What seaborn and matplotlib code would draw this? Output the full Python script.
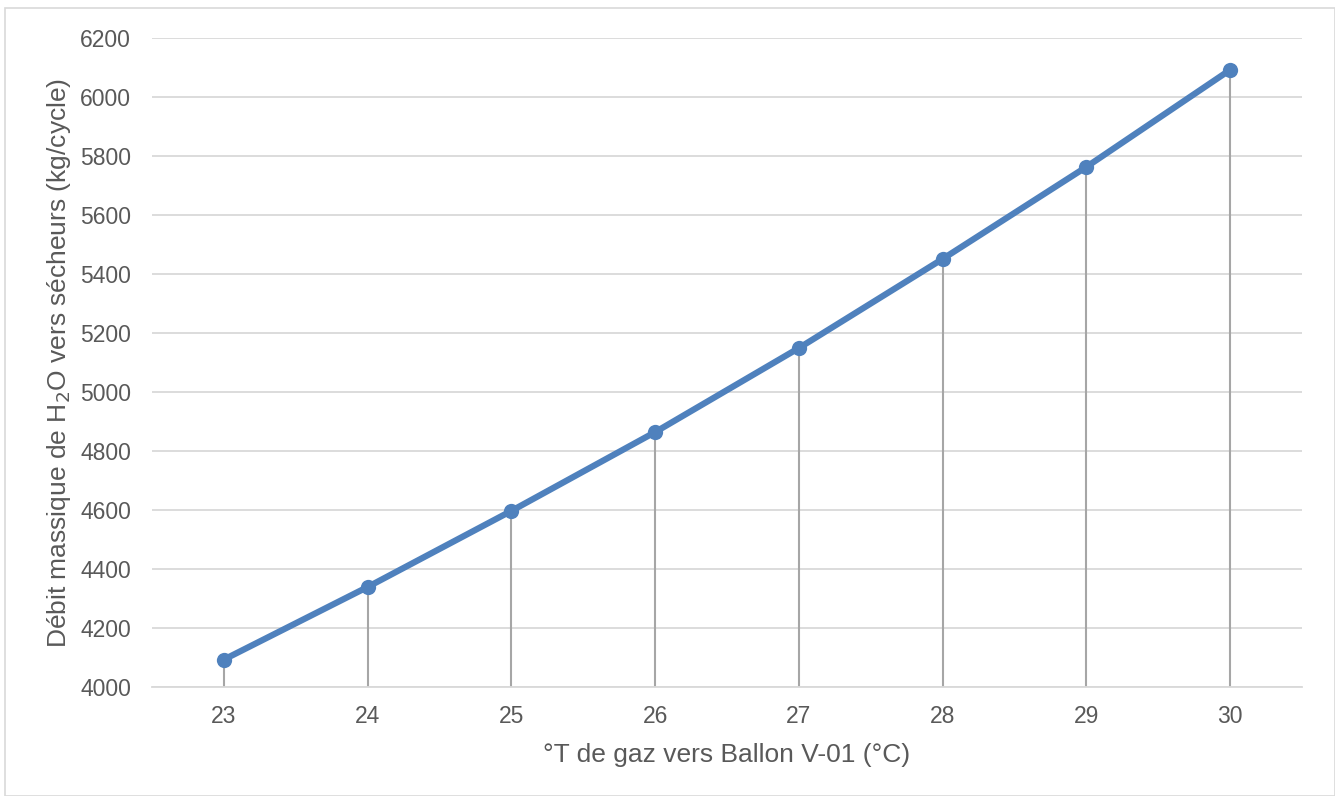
import matplotlib
matplotlib.use("Agg")
import matplotlib.pyplot as plt
import seaborn as sns
import pandas as pd
from matplotlib.patches import Rectangle

temperatures = [23, 24, 25, 26, 27, 28, 29, 30]
debit_h2o = [4093, 4339, 4597, 4864, 5149, 5451, 5763, 6092]
y_ticks = [4000, 4200, 4400, 4600, 4800, 5000, 5200, 5400, 5600, 5800, 6000, 6200]

sns.set_theme(style="white")
plt.rcParams['font.family'] = ['Liberation Sans', 'DejaVu Sans']

df = pd.DataFrame({"T": temperatures, "D": debit_h2o})

fig = plt.figure(figsize=(13.35, 7.96), dpi=100)
ax = fig.add_axes([152/1335, 1 - 687/796, (1302-152)/1335, (687-38)/796])

text_col = "#595959"
line_col = "#4f81bd"

ax.vlines(df["T"], y_ticks[0], df["D"], color="#a6a6a6", linewidth=1.5, zorder=2)
sns.lineplot(data=df, x="T", y="D", ax=ax, color=line_col, linewidth=4.5,
             marker="o", markersize=11, markeredgewidth=0, zorder=3)

ax.set_xlim(22.5, 30.5)
ax.set_ylim(4000, 6200)
ax.set_yticks(y_ticks)
ax.set_xticks(temperatures)
ax.grid(axis="y", color="#d9d9d9", linewidth=1.3, zorder=0)
ax.set_axisbelow(True)
for s in ["top", "right", "left"]:
    ax.spines[s].set_visible(False)
ax.spines["bottom"].set_color("#d9d9d9")
ax.spines["bottom"].set_linewidth(1.3)
ax.tick_params(axis="both", length=0, labelsize=16.5, colors=text_col)
ax.tick_params(axis="x", pad=13)
ax.tick_params(axis="y", pad=15)

ax.set_xlabel("°T de gaz vers Ballon V-01 (°C)", fontsize=19, color=text_col, labelpad=11)
ax.set_ylabel("Débit massique de H$_2$O vers sécheurs (kg/cycle)", fontsize=19,
              color=text_col, labelpad=5)

fig.patches.append(Rectangle((5/1335, 0), 1 - 5/1335, 1 - 8/796, transform=fig.transFigure,
                             fill=False, edgecolor="#d9d9d9", linewidth=1.2))

fig.savefig("out.png", dpi=100, facecolor="white")
